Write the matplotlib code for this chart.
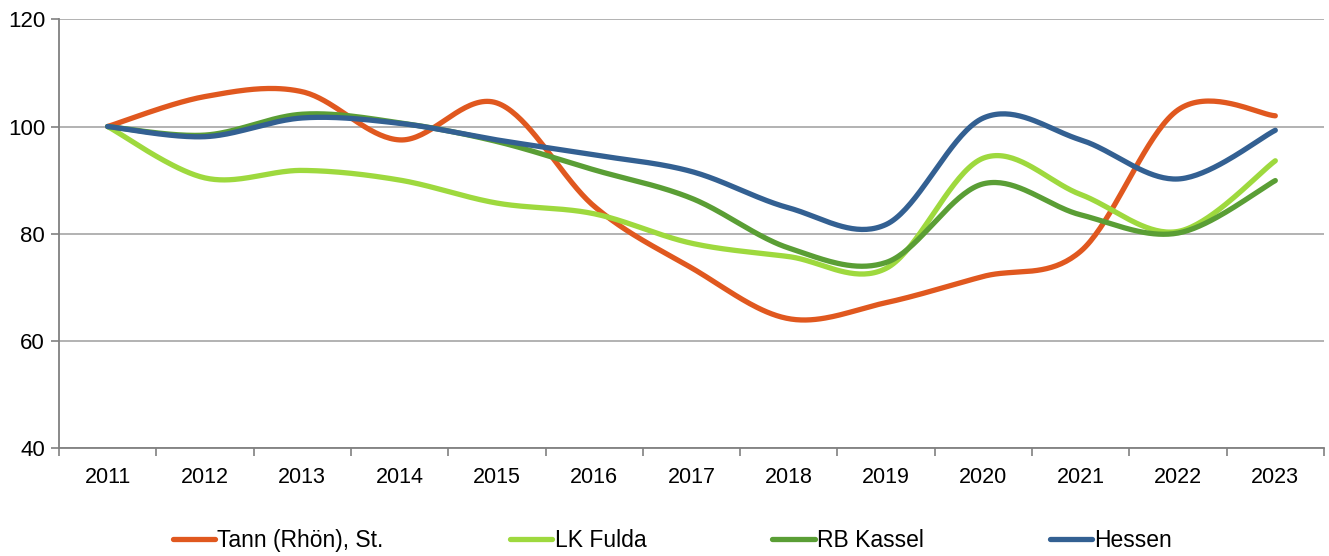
import numpy as np
import matplotlib
matplotlib.use("Agg")
import matplotlib.pyplot as plt
from matplotlib.lines import Line2D

plt.rcParams['font.family'] = ['Liberation Sans', 'DejaVu Sans']

years = ["2011", "2012", "2013", "2014", "2015", "2016", "2017",
         "2018", "2019", "2020", "2021", "2022", "2023"]
tann = [100, 105.6, 106.5, 97.5, 104.4, 85.1, 73.6, 64.1, 67.1, 72.0, 76.7, 103.1, 102.0]
lk_fulda = [100, 90.4, 91.8, 90.0, 85.7, 83.7, 78.2, 75.7, 73.5, 94.1, 87.3, 80.4, 93.6]
rb_kassel = [100, 98.4, 102.3, 100.7, 97.2, 91.9, 86.6, 77.3, 74.6, 89.3, 83.5, 80.1, 89.9]
hessen = [100, 98.1, 101.6, 100.6, 97.5, 94.7, 91.6, 84.8, 81.7, 101.6, 97.5, 90.2, 99.3]

series = [
    ("Tann (Rhön), St.", tann, "#E0581F"),
    ("LK Fulda", lk_fulda, "#9ED93E"),
    ("RB Kassel", rb_kassel, "#5A9E35"),
    ("Hessen", hessen, "#336092"),
]


def smooth(y, n=40):
    """Catmull-Rom (Excel-like) smoothing through the points."""
    y = np.asarray(y, float)
    x = np.arange(len(y), dtype=float)
    xs, ys = [], []
    for i in range(len(y) - 1):
        p0 = (x[i - 1], y[i - 1]) if i > 0 else (x[i], y[i])
        p1 = (x[i], y[i])
        p2 = (x[i + 1], y[i + 1])
        p3 = (x[i + 2], y[i + 2]) if i + 2 < len(y) else (x[i + 1], y[i + 1])
        c1 = (p1[0] + (p2[0] - p0[0]) / 6, p1[1] + (p2[1] - p0[1]) / 6)
        c2 = (p2[0] - (p3[0] - p1[0]) / 6, p2[1] - (p3[1] - p1[1]) / 6)
        t = np.linspace(0, 1, n, endpoint=(i == len(y) - 2))
        a = (1 - t) ** 3
        b = 3 * (1 - t) ** 2 * t
        c = 3 * (1 - t) * t ** 2
        d = t ** 3
        xs.append(a * p1[0] + b * c1[0] + c * c2[0] + d * p2[0])
        ys.append(a * p1[1] + b * c1[1] + c * c2[1] + d * p2[1])
    return np.concatenate(xs), np.concatenate(ys)


fig = plt.figure(figsize=(13.29, 5.56), dpi=100)
ax = fig.add_axes([0.0444, 0.1948, 0.9518, 0.7702])

for label, vals, col in series:
    sx, sy = smooth(vals)
    ax.plot(sx, sy, color=col, lw=3.8, solid_capstyle='round', label=label, zorder=3)

ax.set_xlim(-0.5, len(years) - 0.5)
ax.set_ylim(40, 120)
ax.set_yticks([40, 60, 80, 100, 120])
ax.set_xticks(range(len(years)))
ax.set_xticklabels(years)
ax.set_xticks(np.arange(-0.5, len(years), 1), minor=True)
ax.tick_params(axis='x', which='major', length=0, pad=14, labelsize=15.5)
ax.tick_params(axis='x', which='minor', length=6, color='#808080', width=1.2)
ax.tick_params(axis='y', length=6, color='#808080', width=1.2, labelsize=16, pad=4)

ax.grid(axis='y', color='#A6A6A6', lw=1.2, zorder=0)
for s in ['top', 'right']:
    ax.spines[s].set_visible(False)
for s in ['left', 'bottom']:
    ax.spines[s].set_color('#808080')
    ax.spines[s].set_linewidth(1.3)

handles = [Line2D([0], [0], color=c, lw=3.8, solid_capstyle='round') for _, _, c in series]
fig.legend(handles, [s[0] for s in series], loc='center', bbox_to_anchor=(0.506, 0.028),
           ncol=4, frameon=False, fontsize=16.5, handlelength=1.85, handletextpad=0.1,
           columnspacing=5.5)

fig.savefig("out.png", dpi=100)
